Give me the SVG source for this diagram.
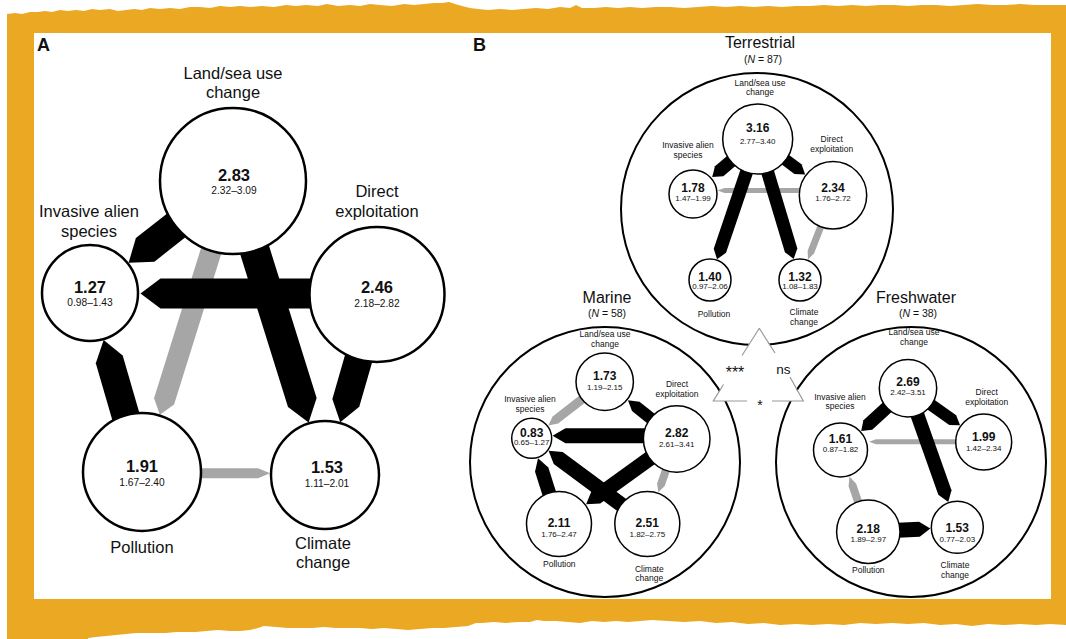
<svg xmlns="http://www.w3.org/2000/svg" width="1066" height="639" viewBox="0 0 1066 639">
<style>
text{font-family:"Liberation Sans",Arial,Helvetica,sans-serif;fill:#111;text-anchor:middle}
.pl{font-size:18px;font-weight:bold;text-anchor:start}
.la{font-size:16.5px}
.na{font-size:16.5px;font-weight:bold}
.ra{font-size:10.2px}
.ttl{font-size:16px}
.nn{font-size:10.5px}
.lb{font-size:8.5px}
.nb{font-size:12px;font-weight:bold}
.rb{font-size:8px}
.ca{fill:#fff;stroke:#000;stroke-width:2.5}
.cb{fill:#fff;stroke:#000;stroke-width:1.5}
.big{fill:none;stroke:#000;stroke-width:2}
.blk{fill:#000}
.gry{fill:#a6a6a6}
.tri{stroke:#9a9a9a;stroke-width:1.2;fill:none}
</style>
<rect x="0" y="0" width="1066" height="639" fill="#fff"/>
<path fill="#eaa823" d="M7,14 L15,13 L22,14 L30,12 L38,12 L45,11 L52,12 L60,10 L68,11 L76,10 L84,11 L92,9 L100,10 L110,9 L118,11 L126,10 L134,9 L142,10 L150,8 L160,9 L170,8 L180,9 L190,7 L200,7 L210,8 L220,6 L230,7 L240,6 L250,7 L262,6 L274,7 L286,5 L296,6 L306,5 L318,6 L327,4 L338,6 L350,5 L360,6 L370,4 L380,5 L392,6 L404,4 L414,5 L424,4 L434,3 L442,3 L449,2 L455,4 L462,6 L470,8 L478,9 L488,10 L500,9 L512,10 L524,9 L536,8 L548,9 L560,7 L570,8 L576,5 L582,8 L594,8 L606,7 L618,8 L630,7 L642,8 L656,7 L670,7 L684,8 L698,7 L712,6 L726,7 L740,6 L754,7 L768,6 L782,7 L796,6 L810,6 L824,5 L838,6 L852,5 L866,6 L880,5 L894,5 L908,6 L922,5 L936,5 L950,6 L964,5 L978,4 L992,5 L1006,5 L1020,4 L1034,5 L1048,5 L1066,5 L1066,625 L1050,624 L1036,625 L1020,624 L1004,625 L988,624 L972,626 L956,624 L940,625 L924,623 L908,624 L892,623 L876,624 L860,623 L844,625 L828,624 L812,625 L796,624 L780,625 L764,623 L748,624 L732,622 L716,623 L700,621 L684,622 L668,621 L652,620 L640,621 L628,622 L616,621 L604,622 L592,621 L580,623 L568,622 L556,621 L544,621 L537,620 L530,622 L518,622 L506,623 L494,622 L482,623 L476,623 L468,626 L456,627 L444,628 L432,628 L420,629 L408,630 L396,629 L384,628 L372,629 L360,628 L348,628 L336,628 L324,627 L312,628 L300,628 L288,628 L276,627 L264,626 L258,628 L250,630 L240,631 L230,631 L218,630 L206,631 L196,632 L186,632 L176,632 L166,633 L156,633 L146,633 L136,633 L126,634 L116,635 L106,636 L96,637 L88,638 L88,639 L7,639 Z"/>
<rect x="34" y="33" width="1017" height="566" fill="#fff"/>

<g id="panel-labels">
<text class="pl" x="37" y="51">A</text>
<text class="pl" x="473" y="51">B</text>
</g>

<g id="habitat-terrestrial">
<circle class="big" cx="757" cy="209" r="136"/>
<text class="ttl" x="760" y="48">Terrestrial</text>
<text class="nn" x="763" y="63">(<tspan font-style="italic">N</tspan> = 87)</text>
</g>
<g id="habitat-marine">
<circle class="big" cx="605" cy="462" r="135"/>
<text class="ttl" x="607" y="303">Marine</text>
<text class="nn" x="607" y="317">(<tspan font-style="italic">N</tspan> = 58)</text>
</g>
<g id="habitat-freshwater">
<circle class="big" cx="911" cy="462" r="135"/>
<text class="ttl" x="916" y="303">Freshwater</text>
<text class="nn" x="918" y="317">(<tspan font-style="italic">N</tspan> = 38)</text>
</g>

<g id="connectors">
<!-- panel A -->
<path class="gry" d="M0,-10.5 H159.9 L173.9,0 L159.9,10.5 H0 Z" transform="translate(211.8,248.8) rotate(107.37)"/>
<path class="gry" d="M0,-5 H59 L71,0 L59,5 H0 Z" transform="translate(199,473.3)"/>
<path class="blk" d="M0,-15 H40.6 L61.6,0 L40.6,15 H0 Z" transform="translate(177.1,224.8) rotate(141.93)"/>
<path class="blk" d="M0,-15 H161.1 L182.1,0 L161.1,15 H0 Z" transform="translate(254.2,248.7) rotate(72.62)"/>
<path class="blk" d="M0,-15 H151 L171,0 L151,15 H0 Z" transform="translate(311.5,293.5) rotate(180)"/>
<path class="blk" d="M0,-14 H47.3 L67.3,0 L47.3,14 H0 Z" transform="translate(358.9,357.5) rotate(106.07)"/>
<path class="blk" d="M0,-14 H60.4 L80.4,0 L60.4,14 H0 Z" transform="translate(126.1,417.3) rotate(-106.2)"/>
<!-- terrestrial -->
<path class="gry" d="M0,-2.5 H76.5 L83.5,0 L76.5,2.5 H0 Z" transform="translate(801,190.5) rotate(180)"/>
<path class="gry" d="M0,-3.5 H29.2 L37.2,0 L29.2,3.5 H0 Z" transform="translate(821.5,224.8) rotate(111.28)"/>
<path class="blk" d="M0,-6.5 H17.3 L26.3,0 L17.3,6.5 H0 Z" transform="translate(732.4,160.1) rotate(140.15)"/>
<path class="blk" d="M0,-6 H17.3 L26.3,0 L17.3,6 H0 Z" transform="translate(784.1,158.8) rotate(36.78)"/>
<path class="blk" d="M0,-6.5 H84.9 L93.9,0 L84.9,6.5 H0 Z" transform="translate(747.1,170.3) rotate(108.7)"/>
<path class="blk" d="M0,-6.5 H83.2 L92.2,0 L83.2,6.5 H0 Z" transform="translate(767.2,170.6) rotate(73.3)"/>
<!-- marine -->
<path class="gry" d="M0,-4.5 H35.7 L44.7,0 L35.7,4.5 H0 Z" transform="translate(583.6,398.1) rotate(142.21)"/>
<path class="gry" d="M0,-4 H17.1 L25.1,0 L17.1,4 H0 Z" transform="translate(666.5,468.6) rotate(109.08)"/>
<path class="blk" d="M0,-6 H21 L31,0 L21,6 H0 Z" transform="translate(652.2,419.5) rotate(-141.49)"/>
<path class="blk" d="M0,-7.5 H79.5 L92.5,0 L79.5,7.5 H0 Z" transform="translate(645,435.8) rotate(180)"/>
<path class="blk" d="M0,-7.5 H68.4 L80.4,0 L68.4,7.5 H0 Z" transform="translate(651.3,457.3) rotate(144.17)"/>
<path class="blk" d="M0,-7.5 H80.4 L92.4,0 L80.4,7.5 H0 Z" transform="translate(622.8,505.8) rotate(-143.45)"/>
<path class="blk" d="M0,-7 H26.4 L38.4,0 L26.4,7 H0 Z" transform="translate(549.7,494.9) rotate(-107.67)"/>
<!-- freshwater -->
<path class="gry" d="M0,-2.5 H81.7 L88.7,0 L81.7,2.5 H0 Z" transform="translate(957.7,441.8) rotate(180)"/>
<path class="gry" d="M0,-4 H19.6 L28.6,0 L19.6,4 H0 Z" transform="translate(858.7,503.6) rotate(-108.8)"/>
<path class="blk" d="M0,-6.5 H27.75 L36.75,0 L27.75,6.5 H0 Z" transform="translate(888.3,406.3) rotate(137.57)"/>
<path class="blk" d="M0,-6 H28.1 L37.1,0 L28.1,6 H0 Z" transform="translate(929.8,403.8) rotate(35.35)"/>
<path class="blk" d="M0,-7 H83.8 L93.8,0 L83.8,7 H0 Z" transform="translate(916.9,413.5) rotate(70.47)"/>
<path class="blk" d="M0,-7.5 H21.4 L32.4,0 L21.4,7.5 H0 Z" transform="translate(898,530.2) rotate(-2.83)"/>
</g>

<!-- Panel A nodes -->
<g id="a-landsea">
<circle class="ca" cx="233" cy="181" r="73"/>
<text class="la" x="233" y="79">Land/sea use</text>
<text class="la" x="233" y="98">change</text>
<text class="na" x="234" y="181">2.83</text>
<text class="ra" x="234" y="194">2.32–3.09</text>
</g>
<g id="a-invasive">
<circle class="ca" cx="90" cy="293" r="48"/>
<text class="la" x="89" y="217">Invasive alien</text>
<text class="la" x="89" y="237">species</text>
<text class="na" x="90" y="293">1.27</text>
<text class="ra" x="90" y="306">0.98–1.43</text>
</g>
<g id="a-direct">
<circle class="ca" cx="377" cy="294.5" r="67.5"/>
<text class="la" x="377" y="197">Direct</text>
<text class="la" x="377" y="217">exploitation</text>
<text class="na" x="377" y="293">2.46</text>
<text class="ra" x="377" y="307">2.18–2.82</text>
</g>
<g id="a-pollution">
<circle class="ca" cx="142" cy="472" r="59"/>
<text class="na" x="142" y="472">1.91</text>
<text class="ra" x="142" y="486">1.67–2.40</text>
<text class="la" x="142" y="553">Pollution</text>
</g>
<g id="a-climate">
<circle class="ca" cx="325" cy="475" r="54"/>
<text class="na" x="327" y="473">1.53</text>
<text class="ra" x="327" y="487">1.11–2.01</text>
<text class="la" x="323" y="549">Climate</text>
<text class="la" x="323" y="568">change</text>
</g>

<!-- Terrestrial nodes -->
<g id="t-landsea">
<circle class="cb" cx="757.7" cy="139" r="35"/>
<text class="lb" x="760" y="85.5">Land/sea use</text>
<text class="lb" x="760" y="95">change</text>
<text class="nb" x="757.7" y="131.7">3.16</text>
<text class="rb" x="757.7" y="143.5">2.77–3.40</text>
</g>
<g id="t-invasive">
<circle class="cb" cx="693" cy="194" r="24"/>
<text class="lb" x="688" y="147.7">Invasive alien</text>
<text class="lb" x="688" y="157.7">species</text>
<text class="nb" x="693" y="191.7">1.78</text>
<text class="rb" x="693" y="200.5">1.47–1.99</text>
</g>
<g id="t-direct">
<circle class="cb" cx="833" cy="195.3" r="33.7"/>
<text class="lb" x="831.7" y="142.3">Direct</text>
<text class="lb" x="831.7" y="151.7">exploitation</text>
<text class="nb" x="833" y="191.7">2.34</text>
<text class="rb" x="833" y="200.7">1.76–2.72</text>
</g>
<g id="t-pollution">
<circle class="cb" cx="710" cy="280" r="21"/>
<text class="nb" x="710" y="280.7">1.40</text>
<text class="rb" x="710" y="289">0.97–2.06</text>
<text class="lb" x="714" y="316.7">Pollution</text>
</g>
<g id="t-climate">
<circle class="cb" cx="800" cy="280" r="21"/>
<text class="nb" x="800" y="280.7">1.32</text>
<text class="rb" x="800" y="289">1.08–1.83</text>
<text class="lb" x="804" y="315">Climate</text>
<text class="lb" x="804" y="325">change</text>
</g>

<!-- Marine nodes -->
<g id="m-landsea">
<circle class="cb" cx="604.7" cy="381.7" r="28.7"/>
<text class="lb" x="605" y="336.7">Land/sea use</text>
<text class="lb" x="605" y="346.7">change</text>
<text class="nb" x="604.7" y="380">1.73</text>
<text class="rb" x="604.7" y="390">1.19–2.15</text>
</g>
<g id="m-invasive">
<circle class="cb" cx="531.7" cy="438.3" r="20"/>
<text class="lb" x="530" y="401.7">Invasive alien</text>
<text class="lb" x="530" y="411.7">species</text>
<text class="nb" x="531.7" y="436.7">0.83</text>
<text class="rb" x="531.7" y="445">0.65–1.27</text>
</g>
<g id="m-direct">
<circle class="cb" cx="676.7" cy="439" r="33.3"/>
<text class="lb" x="677" y="387.3">Direct</text>
<text class="lb" x="677" y="396.7">exploitation</text>
<text class="nb" x="676.7" y="436.7">2.82</text>
<text class="rb" x="676.7" y="446.7">2.61–3.41</text>
</g>
<g id="m-pollution">
<circle class="cb" cx="559" cy="524" r="32.5"/>
<text class="nb" x="559" y="526.7">2.11</text>
<text class="rb" x="559" y="536.7">1.76–2.47</text>
<text class="lb" x="559.3" y="567.3">Pollution</text>
</g>
<g id="m-climate">
<circle class="cb" cx="647.3" cy="524" r="32.5"/>
<text class="nb" x="647.3" y="526.7">2.51</text>
<text class="rb" x="647.3" y="536.7">1.82–2.75</text>
<text class="lb" x="649.3" y="571.7">Climate</text>
<text class="lb" x="649.3" y="581">change</text>
</g>

<!-- Freshwater nodes -->
<g id="f-landsea">
<circle class="cb" cx="908" cy="388.3" r="28.7"/>
<text class="lb" x="914" y="335">Land/sea use</text>
<text class="lb" x="914" y="345">change</text>
<text class="nb" x="908" y="386">2.69</text>
<text class="rb" x="908" y="395">2.42–3.51</text>
</g>
<g id="f-invasive">
<circle class="cb" cx="840.5" cy="450" r="27"/>
<text class="lb" x="840" y="400">Invasive alien</text>
<text class="lb" x="840" y="409.3">species</text>
<text class="nb" x="840.5" y="443">1.61</text>
<text class="rb" x="840.5" y="451.5">0.87–1.82</text>
</g>
<g id="f-direct">
<circle class="cb" cx="983.7" cy="442" r="28"/>
<text class="lb" x="986.7" y="395">Direct</text>
<text class="lb" x="986.7" y="405">exploitation</text>
<text class="nb" x="983.7" y="440.7">1.99</text>
<text class="rb" x="983.7" y="450.7">1.42–2.34</text>
</g>
<g id="f-pollution">
<circle class="cb" cx="868.3" cy="531.7" r="31.7"/>
<text class="nb" x="868.3" y="532.7">2.18</text>
<text class="rb" x="868.3" y="541.7">1.89–2.97</text>
<text class="lb" x="868.3" y="573.3">Pollution</text>
</g>
<g id="f-climate">
<circle class="cb" cx="957.3" cy="527.3" r="26"/>
<text class="nb" x="957.3" y="531.7">1.53</text>
<text class="rb" x="957.3" y="541.7">0.77–2.03</text>
<text class="lb" x="955" y="568.3">Climate</text>
<text class="lb" x="955" y="577.7">change</text>
</g>

<g id="comparison">
<polygon points="759.3,328.3 713.3,401 803.3,401" fill="#fff"/>
<path class="tri" d="M759.3,328.3 L742,355.5 M723.5,384.5 L713.3,401 L747,401 M772,401 L803.3,401 L790,377 M775,353 L759.3,328.3"/>
<text x="735" y="378" style="font-size:16px">***</text>
<text x="783.3" y="373.5" style="font-size:13.5px">ns</text>
<text x="760" y="409.5" style="font-size:14px">*</text>
</g>
</svg>
